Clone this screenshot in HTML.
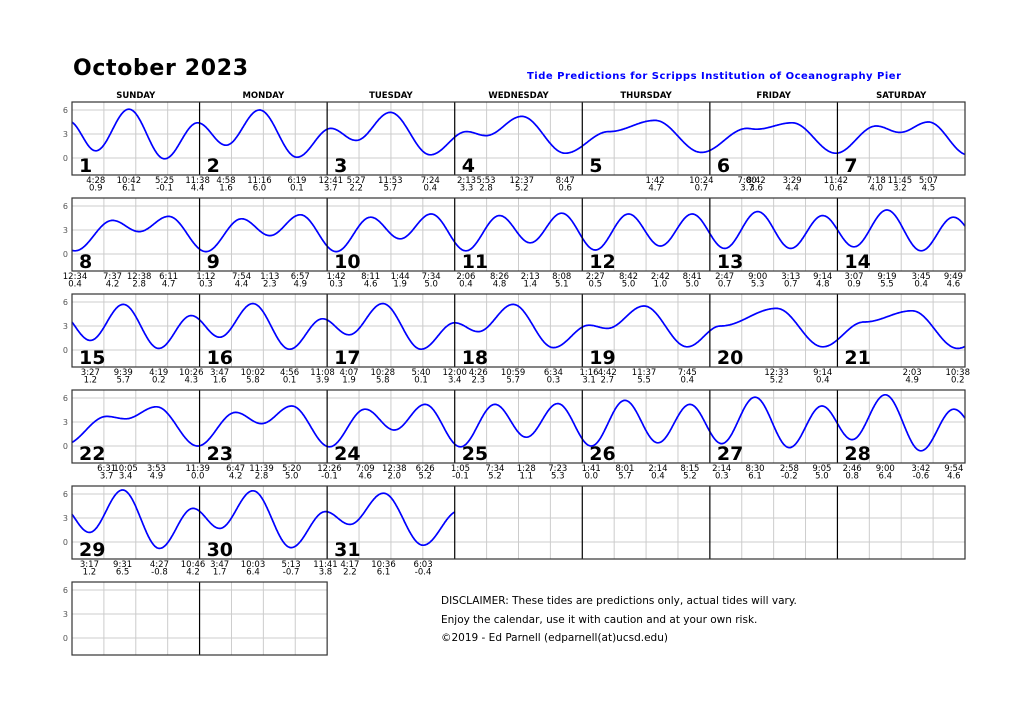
<!DOCTYPE html>
<html><head><meta charset="utf-8"><style>
body{margin:0;background:#fff}
svg{display:block;font-family:"DejaVu Sans","Liberation Sans",sans-serif}
</style></head><body>
<svg id="s" width="1024" height="720" xmlns="http://www.w3.org/2000/svg">
<rect width="1024" height="720" fill="#fff"/>
<text x="73" y="75" font-size="22" font-weight="bold" textLength="175">October 2023</text>
<text x="527" y="79" font-size="10" font-weight="bold" fill="#0000ff" textLength="374">Tide Predictions for Scripps Institution of Oceanography Pier</text>
<text x="441" y="604" font-size="10.5">DISCLAIMER: These tides are predictions only, actual tides will vary.</text>
<text x="441" y="623" font-size="10.5">Enjoy the calendar, use it with caution and at your own risk.</text>
<text x="441" y="641" font-size="10.5">©2019 - Ed Parnell (edparnell(at)ucsd.edu)</text>
</svg>
<script>
(function(){
var S=document.getElementById('s'),NS='http://www.w3.org/2000/svg';
function el(t,a,txt){var e=document.createElementNS(NS,t);for(var k in a)e.setAttribute(k,a[k]);if(txt!=null)e.textContent=txt;S.appendChild(e);return e;}
var L=72,R=965,W=(R-L)/7;
var days=['SUNDAY','MONDAY','TUESDAY','WEDNESDAY','THURSDAY','FRIDAY','SATURDAY'];
days.forEach(function(d,i){el('text',{x:L+W*i+W/2,y:98,'font-size':8.5,'font-weight':'bold','text-anchor':'middle'},d);});
var D={1:[[4,28,.9],[10,42,6.1],[17,25,-.1],[23,38,4.4]],2:[[4,58,1.6],[11,16,6.0],[18,19,.1]],
3:[[0,41,3.7],[5,27,2.2],[11,53,5.7],[19,24,.4]],4:[[2,13,3.3],[5,53,2.8],[12,37,5.2],[20,47,.6]],
5:[[13,42,4.7],[22,24,.7]],6:[[7,0,3.7],[8,42,3.6],[15,29,4.4],[23,42,.6]],7:[[7,18,4.0],[11,45,3.2],[17,7,4.5]],
8:[[0,34,.4],[7,37,4.2],[12,38,2.8],[18,11,4.7]],9:[[1,12,.3],[7,54,4.4],[13,13,2.3],[18,57,4.9]],
10:[[1,42,.3],[8,11,4.6],[13,44,1.9],[19,34,5.0]],11:[[2,6,.4],[8,26,4.8],[14,13,1.4],[20,8,5.1]],
12:[[2,27,.5],[8,42,5.0],[14,42,1.0],[20,41,5.0]],13:[[2,47,.7],[9,0,5.3],[15,13,.7],[21,14,4.8]],
14:[[3,7,.9],[9,19,5.5],[15,45,.4],[21,49,4.6]],15:[[3,27,1.2],[9,39,5.7],[16,19,.2],[22,26,4.3]],
16:[[3,47,1.6],[10,2,5.8],[16,56,.1],[23,8,3.9]],17:[[4,7,1.9],[10,28,5.8],[17,40,.1]],
18:[[0,0,3.4],[4,26,2.3],[10,59,5.7],[18,34,.3]],19:[[1,16,3.1],[4,42,2.7],[11,37,5.5],[19,45,.4]],
20:[[12,33,5.2],[21,14,.4]],21:[[14,3,4.9],[22,38,.2]],22:[[6,31,3.7],[10,5,3.4],[15,53,4.9],[23,39,0.0]],
23:[[6,47,4.2],[11,39,2.8],[17,20,5.0]],24:[[0,26,-.1],[7,9,4.6],[12,38,2.0],[18,26,5.2]],
25:[[1,5,-.1],[7,34,5.2],[13,28,1.1],[19,23,5.3]],26:[[1,41,0.0],[8,1,5.7],[14,14,.4],[20,15,5.2]],
27:[[2,14,.3],[8,30,6.1],[14,58,-.2],[21,5,5.0]],28:[[2,46,.8],[9,0,6.4],[15,42,-.6],[21,54,4.6]],
29:[[3,17,1.2],[9,31,6.5],[16,27,-.8],[22,46,4.2]],30:[[3,47,1.7],[10,3,6.4],[17,13,-.7],[23,41,3.8]],
31:[[4,17,2.2],[10,36,6.1],[18,3,-.4]]};
var P=[[-0.6,4.6]];
for(var d=1;d<=31;d++){D[d].forEach(function(p){P.push([(d-1)*24+p[0]+p[1]/60,p[2]]);});}
P.push([4*24+5,3.3]);
P.push([19*24+2,3.0]);
P.push([20*24+5,3.5]);
P.push([31*24+0.8,3.9]);
P.sort(function(a,b){return a[0]-b[0];});
function hh(t){for(var i=0;i<P.length-1;i++){if(t>=P[i][0]&&t<=P[i+1][0]){var a=P[i],b=P[i+1],f=(t-a[0])/(b[0]-a[0]);
 return a[1]+(b[1]-a[1])*(1-Math.cos(Math.PI*f))/2;}}return 0;}
function fmt(p){var h=p[0]%12;if(h==0)h=12;return h+':'+(p[1]<10?'0':'')+p[1];}
for(var r=0;r<6;r++){
 var tp=102+96*r,bt=tp+73,n=r==5?2:7,y0=tp+56,sc=8;
 var right=L+W*n;
 for(var c=0;c<n;c++)for(var k=1;k<4;k++){var x=L+W*c+W*k/4;el('line',{x1:x,x2:x,y1:tp,y2:bt,stroke:'#ccc','stroke-width':1});}
 [0,3,6].forEach(function(v){el('line',{x1:L,x2:right,y1:y0-v*sc,y2:y0-v*sc,stroke:'#ccc','stroke-width':1});
  el('text',{x:68,y:y0-v*sc+3,'font-size':8,fill:'#555','text-anchor':'end'},v);});
 var pts=[],d0=r*7+1,dmax=Math.min(31,d0+6),dn=dmax-d0+1;
 if(d0<=31){
  var t0=(d0-1)*24,t1=t0+24*dn;
  for(var t=t0;t<=t1+1e-6;t+=0.1){pts.push((L+(t-t0)/24*W).toFixed(1)+','+(y0-hh(t)*sc).toFixed(1));}
  el('polyline',{points:pts.join(' '),fill:'none',stroke:'#0000ff','stroke-width':1.7});
 }
 for(var c=1;c<n;c++){var x=L+W*c;el('line',{x1:x,x2:x,y1:tp,y2:bt,stroke:'#000','stroke-width':1.2});}
 el('rect',{x:L,y:tp,width:right-L,height:73,fill:'none',stroke:'#333','stroke-width':1.2});
 if(r<5)for(var c=0;c<7;c++){var dd=d0+c;if(dd>31)break;(function(dd,bx){
  el('text',{x:bx+7,y:bt-3,'font-size':19,'font-weight':'bold'},dd);
  D[dd].forEach(function(p){var x=bx+(p[0]+p[1]/60)/24*W;
   el('text',{x:x,y:bt+8,'font-size':8.5,'text-anchor':'middle'},fmt(p));
   el('text',{x:x,y:bt+15.5,'font-size':8.5,'text-anchor':'middle'},p[2].toFixed(1));});
 })(dd,L+W*c);}
}
})();
</script>
</body></html>
